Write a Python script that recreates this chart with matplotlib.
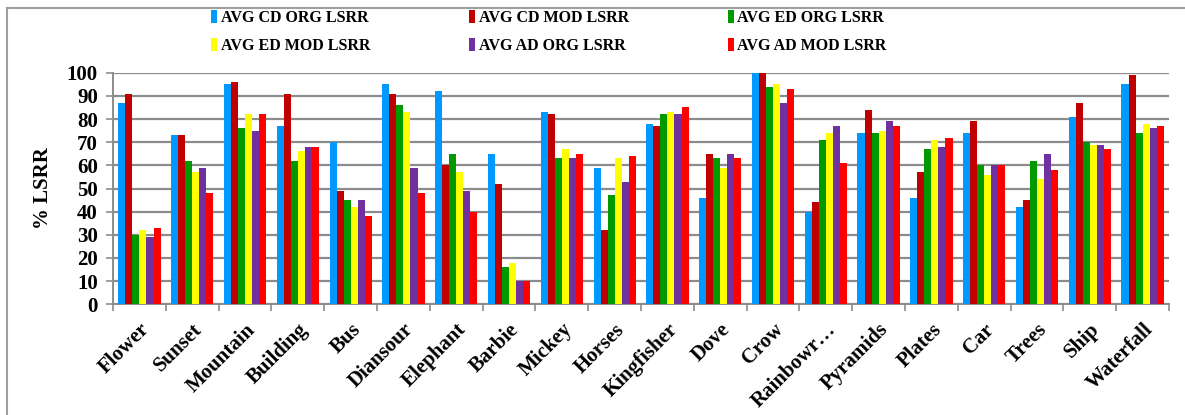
import matplotlib.pyplot as plt
import numpy as np
from matplotlib.lines import Line2D
from matplotlib.patches import Patch

# Categorias e valores
categories = ['Flower', 'Sunset', 'Mountain', 'Building', 'Bus', 'Diansour', 'Elephant',
              'Barbie', 'Mickey', 'Horses', 'Kingfisher', 'Dove', 'Crow', 'Rainbowr…',
              'Pyramids', 'Plates', 'Car', 'Trees', 'Ship', 'Waterfall']

cd_org = [87, 73, 95, 77, 70, 95, 92, 65, 83, 59, 78, 46, 100, 40, 74, 46, 74, 42, 81, 95]
cd_mod = [91, 73, 96, 91, 49, 91, 60, 52, 82, 32, 77, 65, 100, 44, 84, 57, 79, 45, 87, 99]
ed_org = [30, 62, 76, 62, 45, 86, 65, 16, 63, 47, 82, 63, 94, 71, 74, 67, 60, 62, 70, 74]
ed_mod = [32, 57, 82, 66, 42, 83, 57, 18, 67, 63, 83, 59, 95, 74, 75, 71, 56, 54, 69, 78]
ad_org = [29, 59, 75, 68, 45, 59, 49, 10, 63, 53, 82, 65, 87, 77, 79, 68, 60, 65, 69, 76]
ad_mod = [33, 48, 82, 68, 38, 48, 40, 10, 65, 64, 85, 63, 93, 61, 77, 72, 60, 58, 67, 77]

series_names = ['AVG CD ORG LSRR', 'AVG CD MOD LSRR', 'AVG ED ORG LSRR',
                'AVG ED MOD LSRR', 'AVG AD ORG LSRR', 'AVG AD MOD LSRR']
series = [cd_org, cd_mod, ed_org, ed_mod, ad_org, ad_mod]
colors = ['#0099FF', '#C00000', '#009900', '#FFFF00', '#7030A0', '#FF0000']

plt.rcParams['font.family'] = ['Liberation Serif', 'DejaVu Serif']

fig = plt.figure(figsize=(11.85, 4.15), dpi=100)
ax = fig.add_axes([0.0954, 0.2667, 0.9865 - 0.0954, 0.8248 - 0.2667])

x = np.arange(len(categories))
group_w = 0.80
bar_w = group_w / len(series)
handles = []
for i, (vals, col, name) in enumerate(zip(series, colors, series_names)):
    offs = -group_w / 2 + bar_w * (i + 0.5)
    ax.bar(x + offs, vals, width=bar_w, color=col, edgecolor='none', zorder=3)
    handles.append(Patch(facecolor=col, label=name))

ax.set_xlim(-0.5, len(categories) - 0.5)
ax.set_ylim(0, 100)
ax.set_yticks(range(0, 101, 10))
ax.set_yticklabels([str(v) for v in range(0, 101, 10)], fontsize=15, fontweight='bold')
ax.yaxis.grid(True, color='#8c8c8c', linewidth=1.6, zorder=0)
ax.tick_params(axis='y', length=5, color='#8c8c8c', width=1.2, pad=6)

ax.set_xticks(x)
ax.set_xticklabels(categories, rotation=45, ha='right', rotation_mode='anchor',
                   fontsize=15, fontweight='bold')
ax.tick_params(axis='x', length=0, pad=11)
ax.set_xticks(np.arange(-0.5, len(categories)), minor=True)
ax.tick_params(axis='x', which='minor', length=5, color='#8c8c8c', width=1.2)

for s in ['top', 'right']:
    ax.spines[s].set_visible(False)
for s in ['left', 'bottom']:
    ax.spines[s].set_color('#8c8c8c')
    ax.spines[s].set_linewidth(1.4)

ax.set_ylabel('% LSRR', fontsize=15, fontweight='bold', labelpad=10)

# legenda em 2 linhas x 3 colunas (ordem por linha)
order = [0, 3, 1, 4, 2, 5]
fig.legend([handles[k] for k in order], [series_names[k] for k in order],
           ncol=3, loc='upper left', bbox_to_anchor=(0.166, 1.01), frameon=False,
           prop={'size': 11.5, 'weight': 'bold'}, handlelength=0.4, handleheight=0.9,
           handletextpad=0.2, columnspacing=6.2, labelspacing=0.7)

# moldura externa
fig.add_artist(Line2D([0.006, 0.006], [0, 0.981], color='#a0a0a0', linewidth=1.5))
fig.add_artist(Line2D([0.006, 1.0], [0.981, 0.981], color='#a0a0a0', linewidth=1.5))

plt.savefig('out.png', dpi=100)
